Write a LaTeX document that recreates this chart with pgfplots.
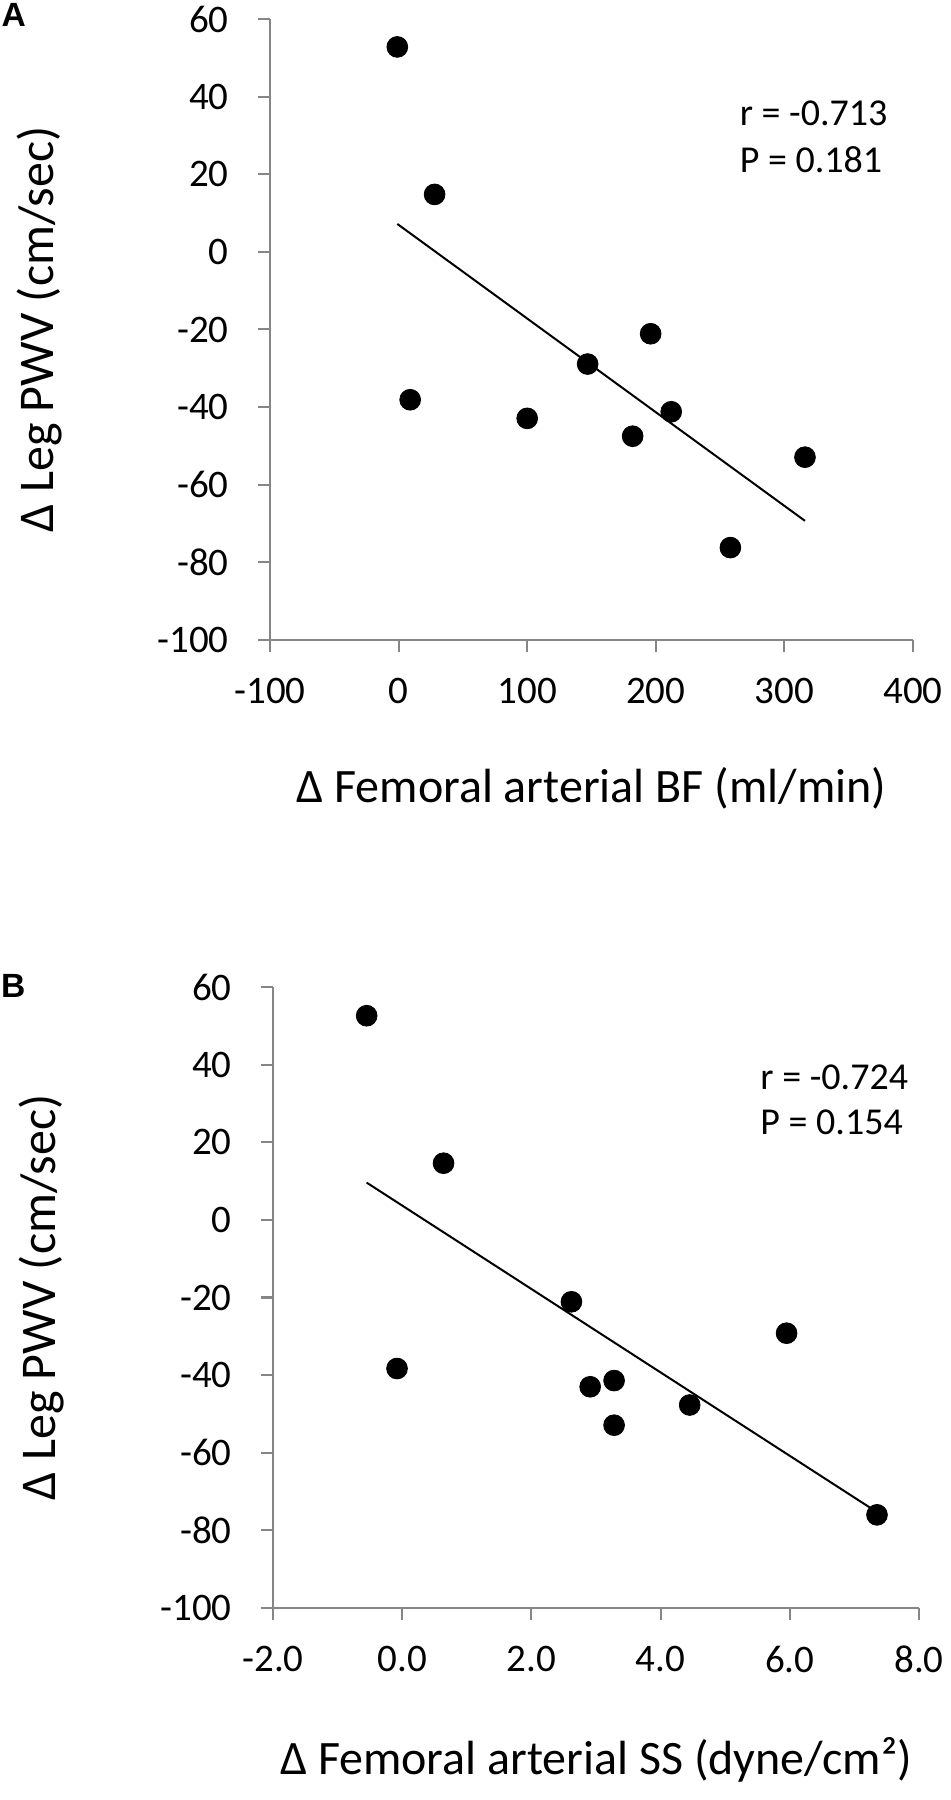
\documentclass[border=0pt]{standalone}
\usepackage{pgfplots}
\pgfplotsset{compat=1.18}
\usepackage{fontspec}
\setmainfont{Carlito}
\newfontfamily\panelfont{Liberation Sans}
\definecolor{axgray}{HTML}{868686}
\pgfplotsset{
  myax/.style={
    scale only axis,
    axis lines*=left,
    axis line style={axgray, line width=1pt},
    tick style={axgray, line width=1pt},
    major tick length=6pt,
    tick align=outside,
    xtick pos=left, ytick pos=left,
    ymin=-100, ymax=60,
    ytick={-100,-80,-60,-40,-20,0,20,40,60},
    yticklabels={-100,-80,-60,-40,-20,0,20,40,60},
    tick label style={font=\fontsize{19.5}{23}\selectfont, text=black, inner sep=0pt},
    xticklabel style={anchor=north, yshift=-12.8pt},
    yticklabel style={anchor=east, xshift=-14.5pt},
    xlabel style={font=\fontsize{24}{29}\selectfont, anchor=center},
    ylabel style={font=\fontsize{25}{30}\selectfont, at={(axis description cs:-0.359,0.5)}, anchor=center},
    clip=false,
  }
}
\begin{document}
\begin{tikzpicture}
\useasboundingbox (0,0) rectangle (475pt,900pt);
% Panel A
\begin{axis}[myax,
  at={(135pt,580pt)}, anchor=south west,
  width=321.5pt, height=310.5pt,
  xmin=-100, xmax=400,
  xtick={-100,0,100,200,300,400},
  xticklabels={-100,0,100,200,300,400},
  xlabel={Δ Femoral arterial BF (ml/min)},
  xlabel style={at={(axis description cs:0.5,-0.2383)}},
  ylabel={Δ Leg PWV (cm/sec)},
]
\addplot[only marks, mark=*, mark size=5.2pt, black] coordinates {
 (-1,52.8) (28,14.8) (9,-38.1) (100,-42.9) (147,-28.9)
 (196,-21.1) (182,-47.5) (212,-41.2) (316,-52.9) (258,-76.2)
};
\addplot[black, line width=1pt] coordinates {(-1,7.2) (316,-69.3)};
\node[anchor=west, inner sep=0pt, font=\fontsize{19}{23}\selectfont] at (axis cs:265,35.6) {r = -0.713};
\node[anchor=west, inner sep=0pt, font=\fontsize{19}{23}\selectfont] at (axis cs:265,23.7) {P = 0.181};
\end{axis}
% Panel B
\begin{axis}[myax,
  at={(136.5pt,96pt)}, anchor=south west,
  width=323pt, height=310.5pt,
  xmin=-2, xmax=8,
  xtick={-2,0,2,4,6,8},
  xticklabels={-2.0,0.0,2.0,4.0,6.0,8.0},
  xlabel={Δ Femoral arterial SS (dyne/cm²)},
  xlabel style={at={(axis description cs:0.5,-0.2448)}},
  ylabel={Δ Leg PWV (cm/sec)},
]
\addplot[only marks, mark=*, mark size=5.2pt, black] coordinates {
 (-0.55,52.6) (0.64,14.6) (-0.08,-38.3) (2.62,-21.1) (5.95,-29.2)
 (2.91,-43.0) (3.28,-41.4) (4.45,-47.7) (3.28,-52.9) (7.35,-76.0)
};
\addplot[black, line width=1pt] coordinates {(-0.55,9.6) (7.34,-75.2)};
\node[anchor=west, inner sep=0pt, font=\fontsize{19}{23}\selectfont] at (axis cs:5.54,36.8) {r = -0.724};
\node[anchor=west, inner sep=0pt, font=\fontsize{19}{23}\selectfont] at (axis cs:5.54,25.2) {P = 0.154};
\end{axis}
\node[anchor=center, inner sep=0pt, font=\panelfont\bfseries\fontsize{16.8}{20}\selectfont] at (6.85pt,892.6pt) {A};
\node[anchor=center, inner sep=0pt, font=\panelfont\bfseries\fontsize{16.8}{20}\selectfont] at (6.6pt,407pt) {B};
\end{tikzpicture}
\end{document}
